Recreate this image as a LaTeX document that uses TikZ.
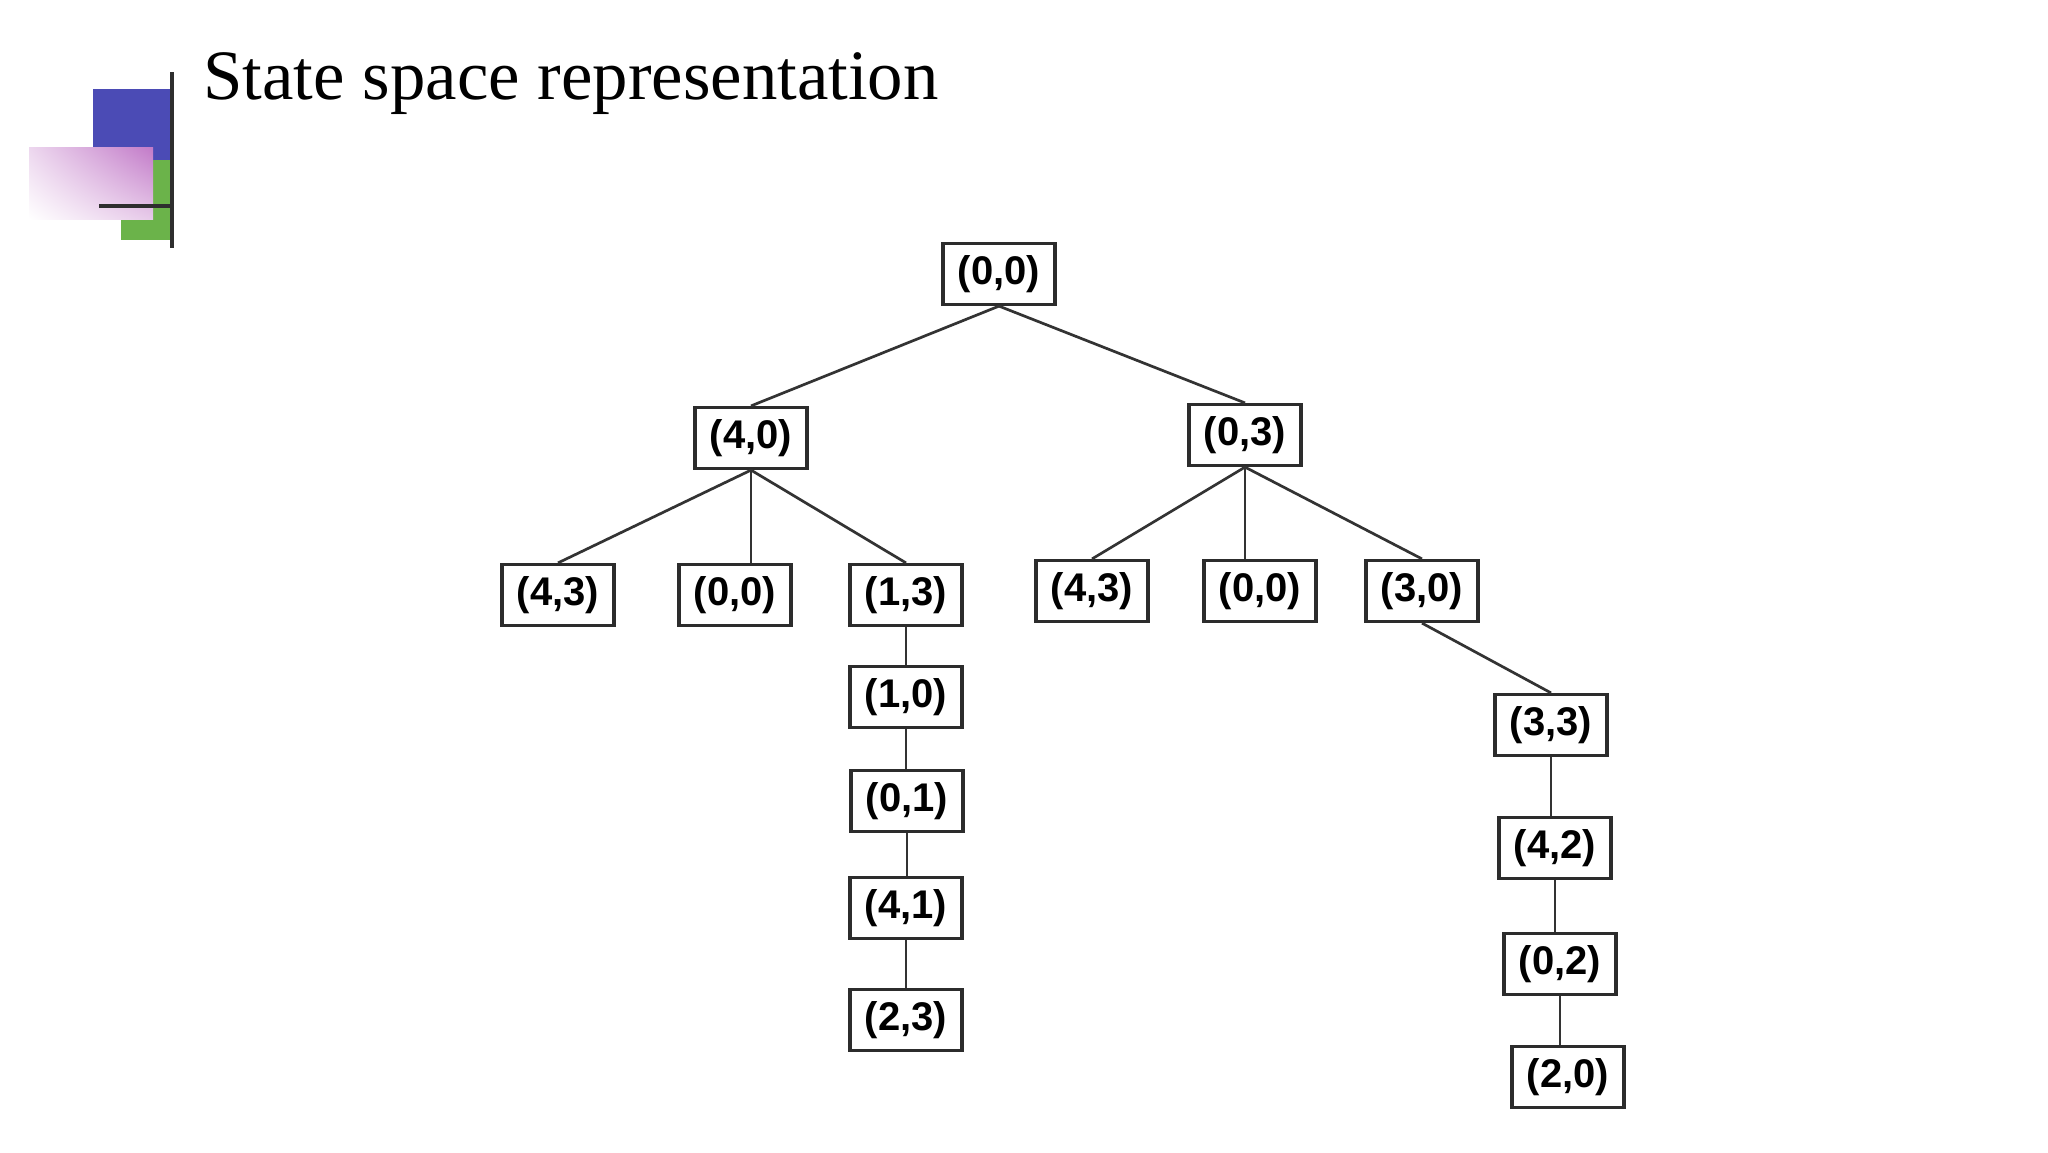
\documentclass[tikz,border=0pt]{standalone}
\usepackage{fontspec}
\usetikzlibrary{shadings}
\setmainfont{Liberation Serif}
\newfontfamily\boxfont{Liberation Sans}
\definecolor{logoblue}{HTML}{4B4BB5}
\definecolor{logogreen}{HTML}{6BB34A}
\definecolor{logopink}{HTML}{C27AC8}
\definecolor{logoline}{HTML}{2E2E2E}
\definecolor{boxline}{HTML}{2C2C2C}
\definecolor{edgeline}{HTML}{333333}
\begin{document}
\begin{tikzpicture}[x=0.5pt,y=-0.5pt,
  statebox/.style={draw=boxline, line width=1.6pt, fill=white, inner sep=0pt,
    minimum width=56pt, minimum height=30.5pt,
    font=\boxfont\bfseries\fontsize{20pt}{24pt}\selectfont},
  edge/.style={draw=edgeline, line width=1.35pt},
  logobar/.style={draw=logoline, line width=2.2pt}]
\useasboundingbox[fill=white] (0,0) rectangle (2048,1152);
% logo
\fill[logoblue] (93,89) rectangle (171,160);
\fill[logogreen] (121,160) rectangle (171,240);
\shade[upper left=logopink!30!white, upper right=logopink, lower left=white, lower right=logopink!40!white] (29,147) rectangle (153,219);
\draw[logobar] (172,72) -- (172,248);
\draw[logobar] (99,206) -- (172,206);
% title
\node[anchor=base west, inner sep=0pt, font=\fontsize{35.4pt}{42pt}\selectfont] (title) at (203,99) {State space representation};
% tree nodes
\node[statebox] (r) at (999,274) {(0,0)};
\node[statebox] (a) at (751,438) {(4,0)};
\node[statebox] (b) at (1245,435) {(0,3)};
\node[statebox] (a1) at (558,595) {(4,3)};
\node[statebox] (a2) at (735,595) {(0,0)};
\node[statebox] (a3) at (906,595) {(1,3)};
\node[statebox] (b1) at (1092,591) {(4,3)};
\node[statebox] (b2) at (1260,591) {(0,0)};
\node[statebox] (b3) at (1422,591) {(3,0)};
\node[statebox] (c1) at (906,697) {(1,0)};
\node[statebox] (c2) at (907,801) {(0,1)};
\node[statebox] (c3) at (906,908) {(4,1)};
\node[statebox] (c4) at (906,1020) {(2,3)};
\node[statebox] (d1) at (1551,725) {(3,3)};
\node[statebox] (d2) at (1555,848) {(4,2)};
\node[statebox] (d3) at (1560,964) {(0,2)};
\node[statebox] (d4) at (1568,1077) {(2,0)};
% connectors
\draw[edge] (r.south) -- (a.north);
\draw[edge] (r.south) -- (b.north);
\draw[edge] (a.south) -- (a1.north);
\draw[edge] (a.south) -- (a.south |- a2.north);
\draw[edge] (a.south) -- (a3.north);
\draw[edge] (b.south) -- (b1.north);
\draw[edge] (b.south) -- (b.south |- b2.north);
\draw[edge] (b.south) -- (b3.north);
\draw[edge] (a3.south) -- (a3.south |- c1.north);
\draw[edge] (c1.south) -- (c1.south |- c2.north);
\draw[edge] (c2.south) -- (c2.south |- c3.north);
\draw[edge] (c3.south) -- (c3.south |- c4.north);
\draw[edge] (b3.south) -- (d1.north);
\draw[edge] (d1.south) -- (d1.south |- d2.north);
\draw[edge] (d2.south) -- (d2.south |- d3.north);
\draw[edge] (d3.south) -- (d3.south |- d4.north);
\end{tikzpicture}
\end{document}
